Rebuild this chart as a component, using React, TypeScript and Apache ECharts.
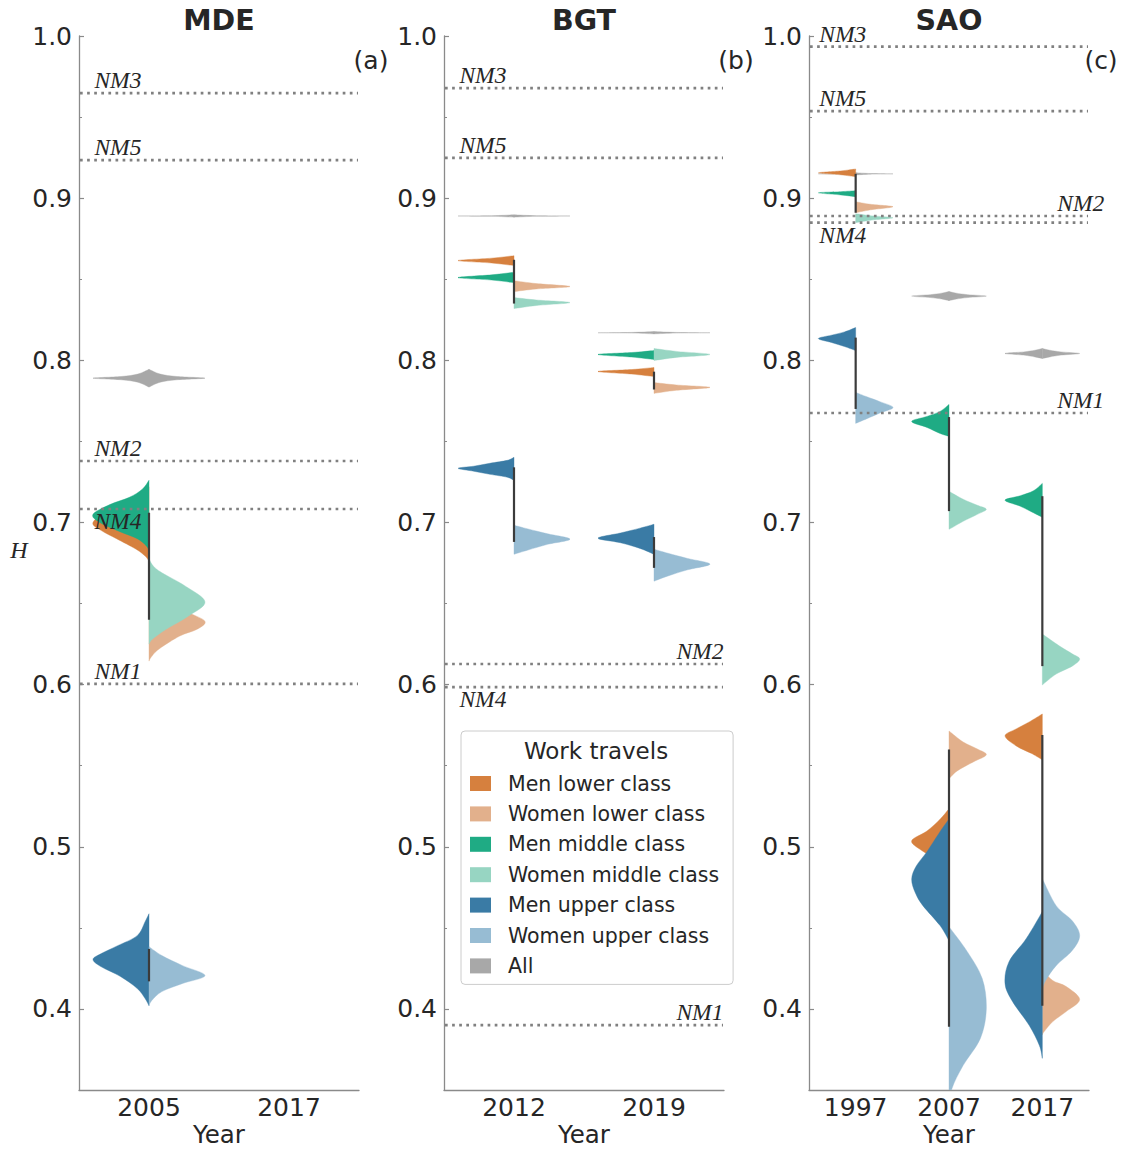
import React, { useEffect, useRef } from 'react';
import * as echarts from 'echarts';

// ---------- categories ----------
const mdeYears = ['2005', '2017'];
const bgtYears = ['2012', '2019'];
const saoYears = ['1997', '2007', '2017'];
const yTickValues = [0.4, 0.5, 0.6, 0.7, 0.8, 0.9, 1.0];

const groups = ['Men lower class', 'Women lower class', 'Men middle class', 'Women middle class', 'Men upper class', 'Women upper class', 'All'];
const groupColors = ['#d6803e', '#e2b08c', '#1fab84', '#97d5c2', '#3a7ba5', '#97bcd3', '#a8a8a8'];
const groupSide = [-1, 1, -1, 1, -1, 1, 0];
const drawOrder = [6, 0, 1, 2, 3, 4, 5];

// ---------- violins: [group, year index, profile [H, relative density]] ----------
type V = [number, number, number[][]];
const mdeViolins: V[] = [
  [6, 0, [[0.7945, 0], [0.7915, 0.2], [0.790, 0.5], [0.789, 1], [0.788, 0.5], [0.7865, 0.2], [0.7835, 0]]],
  [0, 0, [[0.722, 0], [0.716, 0.2], [0.708, 0.7], [0.700, 1], [0.695, 0.85], [0.690, 0.58], [0.6835, 0.23], [0.679, 0.06], [0.676, 0]]],
  [1, 0, [[0.662, 0], [0.655, 0.2], [0.6447, 0.7], [0.639, 1], [0.634, 0.85], [0.630, 0.55], [0.622, 0.18], [0.617, 0.04], [0.6145, 0]]],
  [2, 0, [[0.726, 0], [0.7205, 0.12], [0.7155, 0.35], [0.711, 0.7], [0.705, 1], [0.700, 0.88], [0.6945, 0.53], [0.690, 0.21], [0.686, 0.06], [0.683, 0]]],
  [3, 0, [[0.6775, 0], [0.673, 0.08], [0.669, 0.23], [0.6607, 0.65], [0.651, 1], [0.6422, 0.7], [0.634, 0.3], [0.628, 0.06], [0.625, 0]]],
  [4, 0, [[0.4587, 0], [0.4538, 0.07], [0.4452, 0.21], [0.439, 0.56], [0.434, 0.86], [0.4305, 1], [0.4261, 0.86], [0.420, 0.51], [0.4126, 0.21], [0.4064, 0.07], [0.402, 0]]],
  [5, 0, [[0.4384, 0], [0.4329, 0.23], [0.4267, 0.6], [0.4206, 1], [0.4157, 0.6], [0.4107, 0.23], [0.4052, 0.05], [0.402, 0]]],
];

const bgtViolins: V[] = [
  [6, 0, [[0.8897, 0], [0.8892, 0.4], [0.889, 1], [0.8888, 0.4], [0.8883, 0]]],
  [6, 1, [[0.8177, 0], [0.8172, 0.4], [0.817, 1], [0.8168, 0.4], [0.8163, 0]]],
  [0, 0, [[0.8645, 0], [0.863, 0.4], [0.8615, 1], [0.860, 0.4], [0.8584, 0]]],
  [0, 1, [[0.7956, 0], [0.7943, 0.4], [0.7931, 1], [0.7915, 0.4], [0.790, 0]]],
  [1, 0, [[0.8491, 0], [0.8473, 0.4], [0.8455, 1], [0.844, 0.4], [0.8424, 0]]],
  [1, 1, [[0.7863, 0], [0.7848, 0.4], [0.7833, 1], [0.7815, 0.4], [0.7796, 0]]],
  [2, 0, [[0.8543, 0], [0.8527, 0.4], [0.851, 1], [0.8495, 0.4], [0.8479, 0]]],
  [2, 1, [[0.806, 0], [0.8048, 0.4], [0.8036, 1], [0.802, 0.4], [0.8005, 0]]],
  [3, 0, [[0.8387, 0], [0.8372, 0.4], [0.8356, 1], [0.8338, 0.4], [0.8319, 0]]],
  [3, 1, [[0.8073, 0], [0.8055, 0.4], [0.8036, 1], [0.8018, 0.4], [0.7999, 0]]],
  [4, 0, [[0.7402, 0], [0.7383, 0.12], [0.7365, 0.43], [0.7347, 0.72], [0.7334, 1], [0.7316, 0.72], [0.7297, 0.43], [0.7279, 0.12], [0.726, 0]]],
  [4, 1, [[0.6989, 0], [0.6965, 0.25], [0.6935, 0.6], [0.6903, 1], [0.6875, 0.6], [0.684, 0.25], [0.6804, 0]]],
  [5, 0, [[0.6983, 0], [0.696, 0.25], [0.693, 0.6], [0.6897, 1], [0.6865, 0.6], [0.683, 0.25], [0.6804, 0]]],
  [5, 1, [[0.6835, 0], [0.681, 0.25], [0.6778, 0.6], [0.6743, 1], [0.6708, 0.6], [0.667, 0.25], [0.6638, 0]]],
];

const saoViolins: V[] = [
  [6, 0, [[0.9157, 0], [0.9152, 0.4], [0.915, 1], [0.9148, 0.4], [0.9143, 0]]],
  [6, 1, [[0.8424, 0], [0.8414, 0.2], [0.8405, 0.5], [0.8396, 1], [0.8387, 0.5], [0.8378, 0.2], [0.8368, 0]]],
  [6, 2, [[0.8073, 0], [0.8062, 0.2], [0.8052, 0.5], [0.8042, 1], [0.8032, 0.5], [0.8021, 0.2], [0.8011, 0]]],
  [0, 0, [[0.918, 0], [0.9168, 0.4], [0.9156, 1], [0.9144, 0.4], [0.9132, 0]]],
  [0, 1, [[0.5234, 0], [0.517, 0.24], [0.5097, 0.59], [0.5037, 1], [0.498, 0.75], [0.492, 0.3], [0.487, 0]]],
  [0, 2, [[0.5819, 0], [0.577, 0.35], [0.5727, 0.7], [0.5684, 1], [0.5622, 0.7], [0.5573, 0.27], [0.5536, 0]]],
  [1, 0, [[0.8978, 0], [0.8962, 0.4], [0.8947, 1], [0.8928, 0.4], [0.891, 0]]],
  [1, 1, [[0.5714, 0], [0.5646, 0.38], [0.5603, 0.76], [0.5567, 1], [0.5523, 0.65], [0.5468, 0.22], [0.5419, 0]]],
  [1, 2, [[0.424, 0], [0.4175, 0.28], [0.4138, 0.64], [0.4058, 1], [0.3984, 0.64], [0.3922, 0.28], [0.386, 0.05], [0.384, 0]]],
  [2, 0, [[0.9046, 0], [0.904, 0.4], [0.9033, 1], [0.902, 0.4], [0.9009, 0]]],
  [2, 1, [[0.7728, 0], [0.7685, 0.24], [0.7654, 0.59], [0.7623, 1], [0.7586, 0.59], [0.7549, 0.24], [0.7531, 0]]],
  [2, 2, [[0.7241, 0], [0.7195, 0.24], [0.7165, 0.59], [0.7137, 1], [0.710, 0.59], [0.706, 0.24], [0.7032, 0]]],
  [3, 0, [[0.8904, 0], [0.8892, 0.4], [0.8879, 1], [0.8864, 0.4], [0.8849, 0]]],
  [3, 1, [[0.7192, 0], [0.7143, 0.38], [0.7106, 0.76], [0.7081, 1], [0.705, 0.76], [0.7007, 0.38], [0.697, 0.1], [0.6958, 0]]],
  [3, 2, [[0.6312, 0], [0.6238, 0.46], [0.619, 0.8], [0.6158, 1], [0.6114, 0.8], [0.6065, 0.37], [0.5998, 0]]],
  [4, 0, [[0.8202, 0], [0.8175, 0.3], [0.8155, 0.65], [0.8134, 1], [0.811, 0.65], [0.8085, 0.3], [0.806, 0]]],
  [4, 1, [[0.5172, 0], [0.509, 0.25], [0.497, 0.59], [0.488, 0.88], [0.480, 1], [0.4715, 0.9], [0.4637, 0.7], [0.4514, 0.24], [0.4421, 0]]],
  [4, 2, [[0.460, 0], [0.4434, 0.43], [0.4292, 0.89], [0.4157, 1], [0.4046, 0.8], [0.3898, 0.35], [0.3775, 0.08], [0.3695, 0]]],
  [5, 0, [[0.7802, 0], [0.7775, 0.3], [0.7745, 0.65], [0.7709, 1], [0.7675, 0.65], [0.764, 0.3], [0.7611, 0]]],
  [5, 1, [[0.4507, 0], [0.4353, 0.49], [0.4187, 0.89], [0.400, 1], [0.3818, 0.84], [0.3652, 0.38], [0.351, 0.08], [0.340, 0]]],
  [5, 2, [[0.4803, 0], [0.4637, 0.37], [0.4544, 0.8], [0.4452, 1], [0.436, 0.8], [0.4267, 0.37], [0.418, 0.1], [0.4126, 0]]],
];

// ---------- inner boxes: [year index, low, high] ----------
const mdeBoxes = [[0, 0.640, 0.706], [0, 0.417, 0.437]];
const bgtBoxes = [[0, 0.835, 0.862], [0, 0.688, 0.734], [1, 0.782, 0.793], [1, 0.672, 0.691]];
const saoBoxes = [[0, 0.891, 0.915], [0, 0.770, 0.814], [1, 0.707, 0.765], [1, 0.389, 0.560], [2, 0.6114, 0.7162], [2, 0.402, 0.569]];

// ---------- reference (null-model) lines ----------
const mdeRefNames = ['NM3', 'NM5', 'NM2', 'NM4', 'NM1'];
const mdeRefValues = [0.9648, 0.9235, 0.7379, 0.7083, 0.6004];
const bgtRefNames = ['NM3', 'NM5', 'NM2', 'NM4', 'NM1'];
const bgtRefValues = [0.9679, 0.9248, 0.6127, 0.5985, 0.3900];
const saoRefNames = ['NM3', 'NM5', 'NM2', 'NM4', 'NM1'];
const saoRefValues = [0.9934, 0.9537, 0.8890, 0.8849, 0.7675];
// label placement (layout): t/b = above/below line, l/r = left/right
const mdeRefPlace = ['tl', 'tl', 'tl', 'bl', 'tl'];
const bgtRefPlace = ['tl', 'tl', 'tr', 'bl', 'tr'];
const saoRefPlace = ['tl', 'tl', 'tr', 'bl', 'tr'];

const panelTitles = ['MDE', 'BGT', 'SAO'];
const panelTags = ['(a)', '(b)', '(c)'];

const FONT = 'DejaVu Sans';
const TXT = '#262626';
const AXC = '#8a8a8a';
const NMFONT = 'italic 23.5px "Liberation Serif", "DejaVu Serif", serif';

function splinePath(pts: number[][], cx: number, s: number) {
  const n = pts.length;
  let d = `M${pts[0][0]},${pts[0][1]}`;
  const cl = (x: number) => (s > 0 ? Math.max(x, cx) : Math.min(x, cx));
  for (let i = 0; i < n - 1; i++) {
    const p0 = pts[Math.max(i - 1, 0)];
    const p1 = pts[i];
    const p2 = pts[i + 1];
    const p3 = pts[Math.min(i + 2, n - 1)];
    const c1x = cl(p1[0] + (p2[0] - p0[0]) / 6);
    const c1y = p1[1] + (p2[1] - p0[1]) / 6;
    const c2x = cl(p2[0] - (p3[0] - p1[0]) / 6);
    const c2y = p2[1] - (p3[1] - p1[1]) / 6;
    d += ` C${c1x},${c1y} ${c2x},${c2y} ${p2[0]},${p2[1]}`;
  }
  return d + ' Z';
}

function makeViolinRender(list: V[]) {
  return (params: any, api: any) => {
    const [g, cat, prof] = list[params.dataIndex];
    const half = api.size([1, 0])[0] * 0.4;
    const color = groupColors[g];
    const mk = (s: number) => {
      const cx = api.coord([cat, prof[0][0]])[0];
      const pts = prof.map(([h, w]) => {
        const p = api.coord([cat, h]);
        return [p[0] + s * w * half, p[1]];
      });
      return {
        type: 'path',
        shape: { pathData: splinePath(pts, cx, s) },
        style: { fill: color, stroke: color, lineWidth: 0.4 },
      };
    };
    const side = groupSide[g];
    if (side === 0) return { type: 'group', children: [mk(-1), mk(1)] };
    return mk(side);
  };
}

function makeBoxRender(boxes: number[][]) {
  return (params: any, api: any) => {
    const [cat, lo, hi] = boxes[params.dataIndex];
    const a = api.coord([cat, lo]);
    const b = api.coord([cat, hi]);
    return {
      type: 'line',
      shape: { x1: a[0], y1: a[1], x2: b[0], y2: b[1] },
      style: { stroke: '#3b3b3b', lineWidth: 2.2 },
    };
  };
}

function makeRefRender(names: string[], values: number[], place: string[], nCat: number) {
  return (params: any, api: any) => {
    const i = params.dataIndex;
    const cs = params.coordSys;
    const band = api.size([1, 0])[0];
    const p0 = api.coord([0, values[i]]);
    const pl = api.coord([nCat - 1, values[i]]);
    const y = p0[1];
    const pos = place[i];
    const tx = pos[1] === 'l' ? p0[0] - 0.39 * band : pl[0] + 0.16 * band;
    const ty = pos[0] === 't' ? y - 13 : y + 12;
    return {
      type: 'group',
      children: [
        {
          type: 'line',
          shape: { x1: cs.x + 1, y1: y, x2: cs.x + cs.width - 1, y2: y },
          style: { stroke: '#808080', lineWidth: 2.7, lineDash: [2.7, 4.4] },
        },
        {
          type: 'text',
          x: tx,
          y: ty,
          style: {
            text: names[i],
            fill: TXT,
            font: NMFONT,
            align: 'left',
            verticalAlign: 'middle',
            textAlign: 'left',
            textVerticalAlign: 'middle',
          },
        },
      ],
    };
  };
}

const panels = [
  { years: mdeYears, violins: mdeViolins, boxes: mdeBoxes, refNames: mdeRefNames, refValues: mdeRefValues, refPlace: mdeRefPlace, left: 79 },
  { years: bgtYears, violins: bgtViolins, boxes: bgtBoxes, refNames: bgtRefNames, refValues: bgtRefValues, refPlace: bgtRefPlace, left: 444 },
  { years: saoYears, violins: saoViolins, boxes: saoBoxes, refNames: saoRefNames, refValues: saoRefValues, refPlace: saoRefPlace, left: 809 },
];

function buildOption() {
  const grid: any[] = [];
  const xAxis: any[] = [];
  const yAxis: any[] = [];
  const series: any[] = [];
  const graphic: any[] = [];

  panels.forEach((p, pi) => {
    grid.push({ left: p.left, top: 36, width: 280, height: 1054, containLabel: false, outerBoundsMode: 'none' });
    xAxis.push({
      type: 'category',
      gridIndex: pi,
      data: p.years,
      boundaryGap: true,
      axisLine: { lineStyle: { color: AXC, width: 1.3 } },
      axisTick: { alignWithLabel: true, inside: true, length: 5, lineStyle: { color: AXC, width: 1.2 } },
      axisLabel: { fontSize: 25, color: TXT, fontFamily: FONT, margin: 5 },
      splitLine: { show: false },
      name: 'Year',
      nameLocation: 'middle',
      nameGap: 32,
      nameMoveOverlap: false,
      nameTextStyle: { fontSize: 24.5, color: TXT, fontFamily: FONT },
    });
    yAxis.push({
      type: 'value',
      gridIndex: pi,
      position: 'left',
      min: 0.35,
      max: 1.0,
      interval: 0.05,
      axisLine: { show: true, lineStyle: { color: AXC, width: 1.3 } },
      axisTick: { show: true, inside: true, length: 3, lineStyle: { color: AXC, width: 1 } },
      axisLabel: {
        fontSize: 25,
        color: TXT,
        fontFamily: FONT,
        margin: 7,
        formatter: (v: number) => {
          const r = Math.round(v * 10);
          return Math.abs(v * 10 - r) < 1e-6 && yTickValues.some((t) => Math.abs(t - r / 10) < 1e-9) ? (r / 10).toFixed(1) : '';
        },
      },
      splitLine: { show: false },
    });
    yAxis.push({
      type: 'value',
      gridIndex: pi,
      position: 'left',
      offset: 0,
      min: 0.35,
      max: 1.0,
      axisLine: { show: false },
      axisTick: { show: true, inside: true, length: 5, customValues: yTickValues, lineStyle: { color: AXC, width: 1.2 } },
      axisLabel: { show: false },
      splitLine: { show: false },
    });

    drawOrder.forEach((g) => {
      const list = p.violins.filter((v) => v[0] === g);
      if (!list.length) return;
      series.push({
        type: 'custom',
        name: groups[g],
        xAxisIndex: pi,
        yAxisIndex: pi * 2,
        data: list.map((v) => [v[1], v[2][0][0]]),
        encode: { x: 0, y: 1 },
        renderItem: makeViolinRender(list),
        itemStyle: { color: groupColors[g] },
        clip: true,
        silent: true,
        z: 2,
      });
    });
    series.push({
      type: 'custom',
      name: 'inner' + pi,
      xAxisIndex: pi,
      yAxisIndex: pi * 2,
      data: p.boxes.map((b) => [b[0], b[2]]),
      encode: { x: 0, y: 1 },
      renderItem: makeBoxRender(p.boxes),
      silent: true,
      z: 3,
    });
    series.push({
      type: 'custom',
      name: 'refs' + pi,
      xAxisIndex: pi,
      yAxisIndex: pi * 2,
      data: p.refValues.map((v) => [0, v]),
      encode: { x: 0, y: 1 },
      renderItem: makeRefRender(p.refNames, p.refValues, p.refPlace, p.years.length),
      silent: true,
      z: 4,
    });

    graphic.push({
      type: 'text',
      x: p.left + 140,
      y: 20,
      style: { text: panelTitles[pi], font: `bold 28.5px "${FONT}"`, fill: TXT, textAlign: 'center', textVerticalAlign: 'middle', align: 'center', verticalAlign: 'middle' },
    });
    graphic.push({
      type: 'text',
      x: p.left + 292,
      y: 60,
      style: { text: panelTags[pi], font: `25px "${FONT}"`, fill: TXT, textAlign: 'center', textVerticalAlign: 'middle', align: 'center', verticalAlign: 'middle' },
    });
  });

  graphic.push({
    type: 'text',
    x: 19,
    y: 550,
    style: { text: 'H', font: 'italic 24px "Liberation Serif", "DejaVu Serif", serif', fill: TXT, textAlign: 'center', textVerticalAlign: 'middle', align: 'center', verticalAlign: 'middle' },
  });
  graphic.push({
    type: 'text',
    x: 596,
    y: 751,
    z: 100,
    style: { text: 'Work travels', font: `23px "${FONT}"`, fill: TXT, textAlign: 'center', textVerticalAlign: 'middle', align: 'center', verticalAlign: 'middle' },
  });

  return {
    animation: false,
    backgroundColor: '#ffffff',
    grid,
    xAxis,
    yAxis,
    series,
    graphic,
    legend: {
      data: groups,
      orient: 'vertical',
      left: 461,
      top: 731,
      icon: 'rect',
      itemWidth: 21,
      itemHeight: 15,
      itemGap: 9.4,
      padding: [42, 14, 8, 9],
      selectedMode: false,
      borderColor: '#cccccc',
      borderWidth: 1,
      borderRadius: 4,
      backgroundColor: '#ffffff',
      textStyle: { fontSize: 20.5, color: TXT, fontFamily: FONT, lineHeight: 21, padding: [0, 0, 0, 12] },
    },
  };
}

export default function App() {
  const ref = useRef<HTMLDivElement>(null);
  useEffect(() => {
    document.body.style.margin = '0';
    if (!ref.current) return;
    const chart = echarts.init(ref.current, null, { renderer: 'svg' });
    chart.setOption(buildOption() as any);
    return () => chart.dispose();
  }, []);
  return <div ref={ref} style={{ width: 1124, height: 1149 }} />;
}
